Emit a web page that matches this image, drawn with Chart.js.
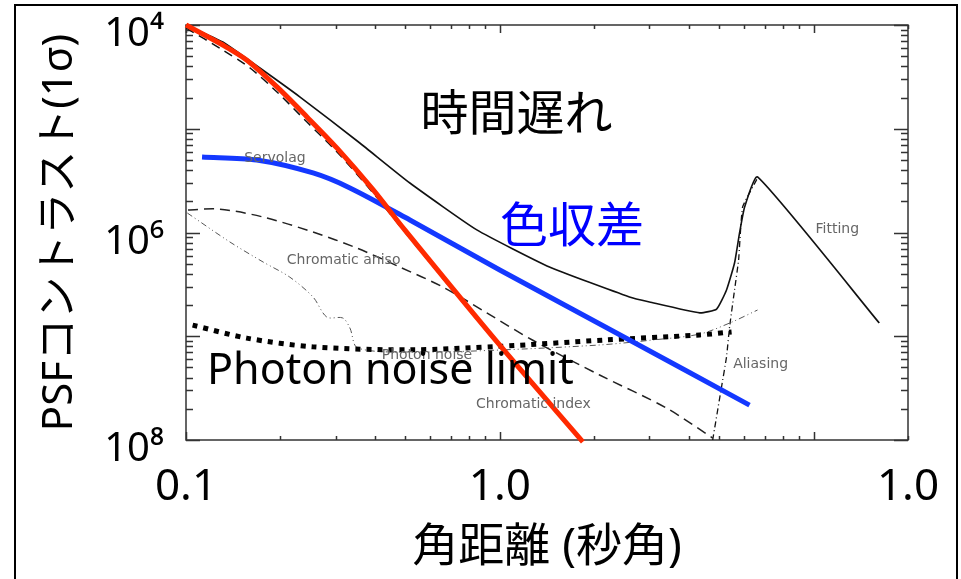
<!DOCTYPE html>
<html lang="ja">
<head>
<meta charset="UTF-8">
<title>PSFコントラスト vs 角距離</title>
<script src="https://cdn.jsdelivr.net/npm/chart.js"></script>
<style>
  html, body { margin: 0; padding: 0; background: #fff; }
  #wrap { width: 961px; height: 579px; position: relative; }
</style>
</head>
<body>
<div id="wrap"><canvas id="psf"></canvas></div>
<script>
// ---- tick labels (as printed on the slide) ----
const xTickValues = [0.1, 1, 20];
const xTickLabels = ['0.1', '1.0', '1.0'];
const yTickValues = [1e-4, 1e-6, 1e-8];
const yTickLabels = ['10⁴', '10⁶', '10⁸'];

// ---- curves, x = separation (arcsec), y = contrast ----
// total (thin solid, includes fitting branch)
const totalX = [0.1, 0.131, 0.172, 0.231, 0.358, 0.517, 0.845, 1.44, 2.59, 3.0, 4.34, 4.91, 5.28, 5.60, 5.81, 6.03, 6.63, 16.2];
const totalY = [1e-4, 6.86e-5, 3.85e-5, 2.02e-5, 7.29e-6, 3.0e-6, 1.06e-6, 4.65e-7, 2.39e-7, 2.14e-7, 1.68e-7, 1.83e-7, 2.79e-7, 5.08e-7, 9.9e-7, 1.76e-6, 3.43e-6, 1.34e-7];
// servolag (dashed)
const servoX = [0.1, 0.131, 0.160, 0.195, 0.243, 0.303, 0.394, 0.498, 1.0, 1.80];
const servoY = [9.36e-5, 5.74e-5, 3.85e-5, 2.26e-5, 1.16e-5, 5.97e-6, 2.42e-6, 1.01e-6, 7.9e-8, 1e-8];
// chromatic anisoplanatism (dashed)
const anisoX = [0.1015, 0.128, 0.176, 0.254, 0.350, 0.480, 0.659, 0.909, 1.27, 2.08, 3.40, 4.77];
const anisoY = [1.65e-6, 1.68e-6, 1.41e-6, 1.01e-6, 7.09e-7, 4.65e-7, 2.98e-7, 1.68e-7, 9.2e-8, 4.23e-8, 2.03e-8, 1.045e-8];
// photon noise (thin dash-dot-dot)
const photonX = [0.101, 0.138, 0.176, 0.214, 0.254, 0.281, 0.316, 0.333, 0.353, 0.556, 1.0, 2.08, 3.07, 4.34, 5.40, 6.63];
const photonY = [1.54e-6, 8.1e-7, 5.2e-7, 3.72e-7, 2.39e-7, 1.53e-7, 1.5e-7, 1.2e-7, 7.7e-8, 7.05e-8, 7.37e-8, 8.24e-8, 9.2e-8, 1.05e-7, 1.34e-7, 1.79e-7];
// aliasing (dash-dot)
const aliasX = [4.77, 5.09, 5.28, 5.40, 5.60, 5.77, 5.94, 6.63];
const aliasY = [1e-8, 3.24e-8, 6.31e-8, 1.23e-7, 2.79e-7, 5.43e-7, 1.76e-6, 3.35e-6];
// overlays: time lag (red), chromatic (blue), photon noise limit (thick dots)
const lagX = [0.1, 0.131, 0.156, 0.195, 0.243, 0.303, 0.394, 0.498, 1.0, 1.84];
const lagY = [1e-4, 6.41e-5, 4.6e-5, 2.53e-5, 1.3e-5, 6.5e-6, 2.6e-6, 1.06e-6, 8.2e-8, 9.6e-9];
const chromX = [0.1125, 0.168, 0.254, 0.333, 0.517, 1.0, 2.59, 6.25];
const chromY = [5.34e-6, 5.0e-6, 3.75e-6, 2.69e-6, 1.32e-6, 4.35e-7, 9.2e-8, 2.17e-8];
const limitX = [0.105, 0.156, 0.254, 0.517, 1.0, 2.16, 4.34, 5.48];
const limitY = [1.28e-7, 9.6e-8, 7.9e-8, 7.4e-8, 8.0e-8, 9.2e-8, 1.03e-7, 1.10e-7];

// ---- text placed in data coordinates ----
const curveNotes = ['Servolag', 'Chromatic aniso', 'Photon noise', 'Chromatic index', 'Fitting', 'Aliasing'];
const curveNoteX = [0.192, 0.318, 0.586, 1.28, 11.9, 6.78];
const curveNoteY = [5.2e-6, 5.4e-7, 6.5e-8, 2.2e-8, 1.08e-6, 5.4e-8];
const bigNotes = [
  { text: '時間遅れ', x: 1.13, y: 1.33e-5, color: '#000', align: 'center' },
  { text: '色収差', x: 1.70, y: 1.1e-6, color: '#0000ff', align: 'center' },
  { text: 'Photon noise limit', x: 0.1167, y: 4.5e-8, color: '#000', align: 'left' }
];

const FONT = "'Noto Sans', 'Noto Sans CJK JP', sans-serif";
const zip = (xs, ys) => xs.map((x, i) => ({ x, y: ys[i] }));

function series(label, xs, ys, color, width, dash, order, extra) {
  return Object.assign({
    label, data: zip(xs, ys),
    borderColor: color, borderWidth: width, borderDash: dash,
    pointRadius: 0, fill: false, tension: 0.3, order
  }, extra || {});
}

// slide border, plot box and inward minor/major ticks
const framePlugin = {
  id: 'frame',
  beforeDatasetsDraw(chart) {
    const { ctx, chartArea: a, scales: { x, y } } = chart;
    ctx.save();
    ctx.strokeStyle = '#000';
    ctx.lineWidth = 2;
    ctx.strokeRect(15, 5, 942, 600);
    ctx.strokeStyle = '#333';
    ctx.lineWidth = 1.5;
    ctx.strokeRect(a.left, a.top, a.width, a.height);
    ctx.beginPath();
    for (let e = -1; e <= 1; e++) {
      for (let k = 1; k < 10; k++) {
        const v = k * Math.pow(10, e);
        if (v < x.min * 0.999 || v > x.max * 1.001) continue;
        const p = Math.round(x.getPixelForValue(v)) + 0.5;
        const len = k === 1 ? 8 : 4;
        ctx.moveTo(p, a.top); ctx.lineTo(p, a.top + len);
        ctx.moveTo(p, a.bottom); ctx.lineTo(p, a.bottom - len);
      }
    }
    for (let e = -8; e <= -4; e++) {
      for (let k = 1; k < 10; k++) {
        const v = k * Math.pow(10, e);
        if (v < y.min * 0.999 || v > y.max * 1.001) continue;
        const p = Math.round(y.getPixelForValue(v)) + 0.5;
        const len = k === 1 ? 14 : 7;
        ctx.moveTo(a.left, p); ctx.lineTo(a.left + len, p);
        ctx.moveTo(a.right, p); ctx.lineTo(a.right - len, p);
      }
    }
    ctx.stroke();
    ctx.restore();
  },
  afterDatasetsDraw(chart) {
    const { ctx, scales: { x, y } } = chart;
    ctx.save();
    ctx.textBaseline = 'middle';
    ctx.textAlign = 'center';
    ctx.fillStyle = '#666';
    ctx.font = "14px 'DejaVu Sans', sans-serif";
    curveNotes.forEach((t, i) => {
      ctx.fillText(t, x.getPixelForValue(curveNoteX[i]), y.getPixelForValue(curveNoteY[i]));
    });
    bigNotes.forEach(n => {
      ctx.fillStyle = n.color;
      ctx.textAlign = n.align;
      ctx.font = (n.align === 'left' ? '43px ' : '48px ') + FONT;
      ctx.fillText(n.text, x.getPixelForValue(n.x), y.getPixelForValue(n.y));
    });
    ctx.restore();
  }
};

new Chart(document.getElementById('psf'), {
  type: 'line',
  data: {
    datasets: [
      series('時間遅れ', lagX, lagY, '#ff2a00', 5, [], 0, { clip: false }),
      series('色収差', chromX, chromY, '#1438ff', 5, [], 1),
      series('Photon noise limit', limitX, limitY, '#000', 5, [5, 6], 2),
      series('Total', totalX, totalY, '#111', 1.6, [], 3, { tension: 0.15 }),
      series('Servolag', servoX, servoY, '#111', 1.5, [9, 6], 4),
      series('Chromatic aniso', anisoX, anisoY, '#222', 1.5, [10, 6], 5),
      series('Photon noise', photonX, photonY, '#555', 1, [6, 3, 1, 3, 1, 3], 6),
      series('Aliasing', aliasX, aliasY, '#111', 1.3, [6, 3, 1, 3], 7, { tension: 0.1 })
    ]
  },
  options: {
    responsive: true,
    maintainAspectRatio: false,
    animation: false,
    layout: { padding: { left: 20, top: 25, right: 53, bottom: 0 } },
    plugins: { legend: { display: false }, tooltip: { enabled: false } },
    scales: {
      x: {
        type: 'logarithmic', min: 0.1, max: 20,
        grid: { display: false, drawTicks: false },
        border: { display: false },
        afterBuildTicks: s => { s.ticks = xTickValues.map(v => ({ value: v })); },
        afterFit: s => { s.height = 139; s.paddingLeft = 0; s.paddingRight = 0; },
        ticks: {
          padding: 25, color: '#000', maxRotation: 0, autoSkip: false,
          font: { family: FONT, size: 44, lineHeight: 1 },
          callback: (v, i) => xTickLabels[i]
        },
        title: {
          display: true, text: '角距離 (秒角)', color: '#000',
          font: { family: FONT, size: 46, lineHeight: 1.2 },
          padding: { top: 0, bottom: 4 }
        }
      },
      y: {
        type: 'logarithmic', min: 1e-8, max: 1e-4,
        grid: { display: false, drawTicks: false },
        border: { display: false },
        afterBuildTicks: s => { s.ticks = yTickValues.map(v => ({ value: v })); },
        afterFit: s => { s.width = 166; s.paddingTop = 0; s.paddingBottom = 0; },
        ticks: {
          padding: 22, color: '#000', labelOffset: 10, autoSkip: false,
          font: { family: FONT, size: 40, lineHeight: 1 },
          callback: (v, i) => yTickLabels[i]
        },
        title: {
          display: true, text: 'PSFコントラスト(1σ)', color: '#000',
          font: { family: FONT, size: 42, lineHeight: 1.2 },
          padding: { top: 15, bottom: 0 }
        }
      }
    }
  },
  plugins: [framePlugin]
});
</script>
</body>
</html>
